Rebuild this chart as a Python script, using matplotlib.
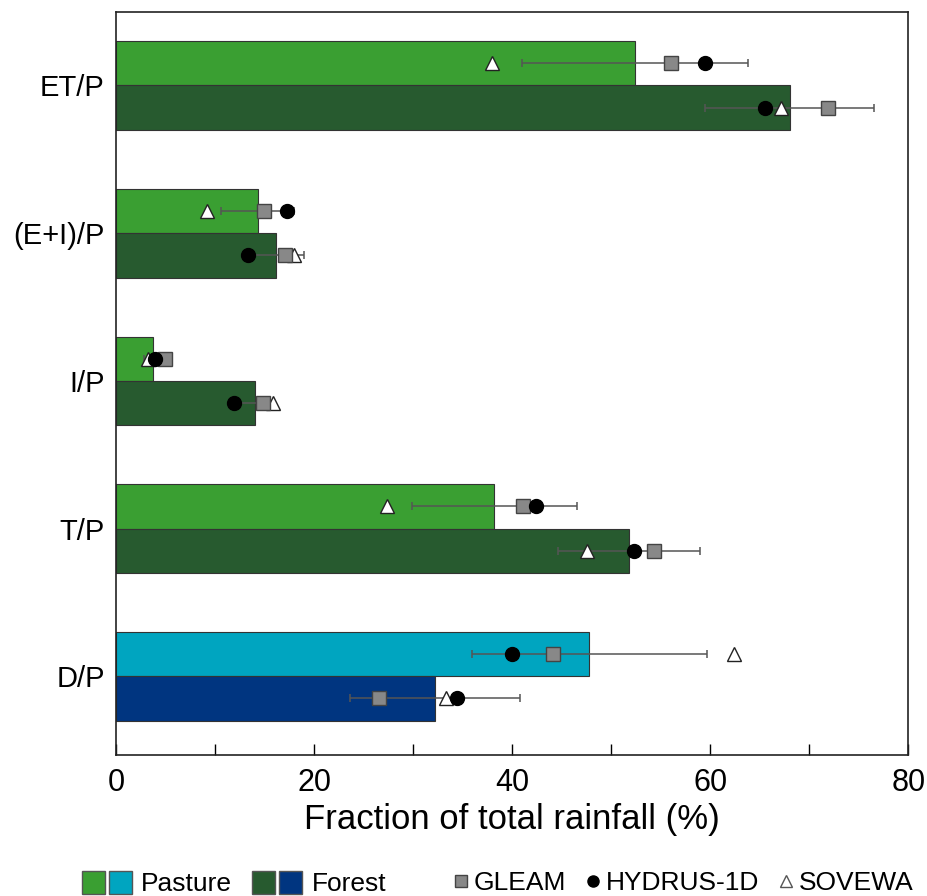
import numpy as np
import matplotlib
matplotlib.use("Agg")
import matplotlib.pyplot as plt
from matplotlib.patches import Patch
from matplotlib.lines import Line2D
from matplotlib.legend_handler import HandlerTuple

plt.rcParams["font.family"] = ["Liberation Sans", "DejaVu Sans"]

# ratios, top to bottom
categories = ["ET/P", "(E+I)/P", "I/P", "T/P", "D/P"]

# bar values (%), pasture and forest
pasture = [52.4, 14.3, 3.7, 38.2, 47.8]
forest = [68.0, 16.2, 14.0, 51.8, 32.2]
pasture_err = [11.45, 3.7, 0.9, 8.35, 11.85]
forest_err = [8.55, 2.8, 2.0, 7.2, 8.6]

# model estimates (%)
gleam_p = [56.0, 15.0, 5.0, 41.1, 44.1]
gleam_f = [71.9, 17.1, 14.9, 54.3, 26.6]
hydrus_p = [59.5, 17.3, 3.9, 42.4, 40.0]
hydrus_f = [65.5, 13.3, 11.9, 52.3, 34.4]
sovewa_p = [38.0, 9.2, 3.2, 27.4, 62.4]
sovewa_f = [67.1, 18.0, 15.9, 47.6, 33.3]

green_light = "#3a9f32"
green_dark = "#275a2f"
cyan = "#00a5c0"
navy = "#003580"

fig = plt.figure(figsize=(9.27, 8.96), dpi=100)
ax = fig.add_axes([0.125, 0.157, 0.855, 0.830])

y = np.arange(len(categories))
h = 0.3
yp = y - h / 2
yf = y + h / 2

col_p = [green_light] * 4 + [cyan]
col_f = [green_dark] * 4 + [navy]

ax.barh(yp, pasture, height=h, color=col_p, edgecolor="#333333", linewidth=0.8, zorder=1)
ax.barh(yf, forest, height=h, color=col_f, edgecolor="#333333", linewidth=0.8, zorder=1)

for yy, vals, err in [(yp, pasture, pasture_err), (yf, forest, forest_err)]:
    ax.errorbar(vals, yy, xerr=err, fmt="none", ecolor="#555555",
                elinewidth=1.1, capsize=3, capthick=1.1, zorder=2)

mk = dict(linestyle="none", markersize=10, zorder=3, markeredgewidth=1.0)
for yy, g, hd, s in [(yp, gleam_p, hydrus_p, sovewa_p), (yf, gleam_f, hydrus_f, sovewa_f)]:
    ax.plot(s, yy, marker="^", color="white", markeredgecolor="#222222", **mk)
    ax.plot(g, yy, marker="s", color="#888888", markeredgecolor="#444444", **mk)
    ax.plot(hd, yy, marker="o", color="black", markeredgecolor="black", **mk)

ax.set_xlim(0, 80)
ax.set_ylim(4.535, -0.5)
ax.set_yticks(y)
ax.set_yticklabels(categories)
ax.set_xticks([0, 20, 40, 60, 80])
ax.set_xticks([10, 30, 50, 70], minor=True)
ax.tick_params(axis="y", length=0, pad=8, labelsize=21)
ax.tick_params(axis="x", which="both", direction="in", length=8, width=1.0,
               pad=9, labelsize=22)
ax.set_xlabel("Fraction of total rainfall (%)", fontsize=25, labelpad=4)
for sp in ax.spines.values():
    sp.set_linewidth(1.2)
    sp.set_color("#222222")

# legends below the plot
cover_handles = [(Patch(facecolor=green_light, edgecolor="#555555"),
                  Patch(facecolor=cyan, edgecolor="#555555")),
                 (Patch(facecolor=green_dark, edgecolor="#555555"),
                  Patch(facecolor=navy, edgecolor="#555555"))]
leg1 = fig.legend(cover_handles, ["Pasture", "Forest"], ncol=2,
                  handler_map={tuple: HandlerTuple(ndivide=None, pad=0.15)},
                  loc="center left", bbox_to_anchor=(0.077, 0.014), frameon=False,
                  fontsize=19, handlelength=1.9, handleheight=1.0,
                  handletextpad=0.35, columnspacing=0.75, borderaxespad=0)

model_handles = [Line2D([], [], linestyle="none", marker="s", markersize=8,
                        color="#888888", markeredgecolor="#444444"),
                 Line2D([], [], linestyle="none", marker="o", markersize=8,
                        color="black"),
                 Line2D([], [], linestyle="none", marker="^", markersize=8,
                        color="white", markeredgecolor="#555555")]
leg2 = fig.legend(model_handles, ["GLEAM", "HYDRUS-1D", "SOVEWA"], ncol=3,
                  loc="center left", bbox_to_anchor=(0.478, 0.014), frameon=False,
                  fontsize=19, handlelength=0.55, handletextpad=0.2,
                  columnspacing=0.75, borderaxespad=0)

fig.savefig("out.png", dpi=100)
